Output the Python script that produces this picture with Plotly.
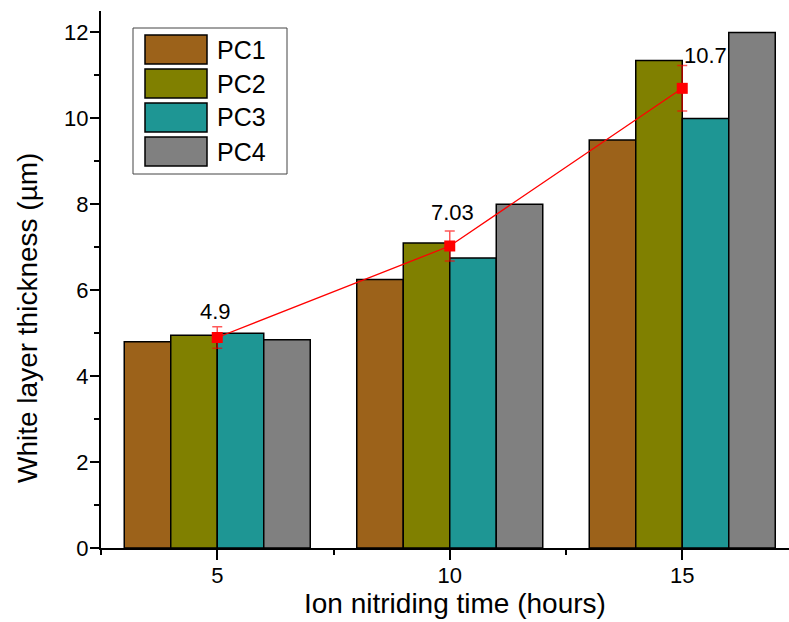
import plotly.graph_objects as go

# ---- data ----
times = [5, 10, 15]
series_names = ["PC1", "PC2", "PC3", "PC4"]
pc1 = [4.80, 6.25, 9.50]
pc2 = [4.95, 7.10, 11.35]
pc3 = [5.00, 6.75, 10.00]
pc4 = [4.85, 8.00, 12.00]
mean_vals = [4.9, 7.03, 10.7]
mean_err = [0.25, 0.35, 0.53]
mean_labels = ["4.9", "7.03", "10.7"]
y_ticks = [0, 2, 4, 6, 8, 10, 12]
x_ticks = [5, 10, 15]

series_vals = [pc1, pc2, pc3, pc4]
colors = ["#9C621A", "#808000", "#1E9694", "#808080"]

W, H = 789, 622
ML, MR, MT, MB = 101, 0, 11, 74
PW, PH = W - ML - MR, H - MT - MB
FONT = "Liberation Sans, Arial, sans-serif"


def px(xp):
    return (xp - ML) / PW


def py(yp):
    return (H - MB - yp) / PH


fig = go.Figure()
for name, vals, c in zip(series_names, series_vals, colors):
    fig.add_trace(go.Bar(x=times, y=vals, name=name, marker=dict(color=c, line=dict(color="black", width=1.5)),
                         showlegend=False))

fig.add_trace(go.Scatter(x=times, y=mean_vals, mode="lines+markers",
                         line=dict(color="red", width=1.3),
                         marker=dict(symbol="square", size=11, color="red"),
                         error_y=dict(type="data", array=mean_err, color="rgba(255,0,0,0.65)",
                                      thickness=1.5, width=5),
                         showlegend=False))

# value labels
offsets = [(-2, 26, "center"), (3, 33, "center"), (0, 33, "left")]
for xv, yv, lab, (dx, dy, anc) in zip(times, mean_vals, mean_labels, offsets):
    fig.add_annotation(x=xv, y=yv, text=lab, showarrow=False, xanchor=anc, yanchor="middle",
                       xshift=dx, yshift=dy, font=dict(family=FONT, size=22, color="black"))

# manual legend
shapes = [dict(type="rect", xref="paper", yref="paper", x0=px(133), x1=px(287), y0=py(174), y1=py(28),
               line=dict(color="#444444", width=1), fillcolor="white", layer="above")]
for i, (name, c) in enumerate(zip(series_names, colors)):
    top = 35 + i * 34
    shapes.append(dict(type="rect", xref="paper", yref="paper", x0=px(145), x1=px(207),
                       y0=py(top + 29), y1=py(top), line=dict(color="black", width=1.5),
                       fillcolor=c, layer="above"))
    fig.add_annotation(xref="paper", yref="paper", x=px(215), y=py(top + 14.5), text=name,
                       showarrow=False, xanchor="left", yanchor="middle",
                       font=dict(family=FONT, size=25, color="black"))

# axis titles
fig.add_annotation(xref="paper", yref="paper", x=px(455), y=py(604), text="Ion nitriding time (hours)",
                   showarrow=False, xanchor="center", yanchor="middle",
                   font=dict(family=FONT, size=28, color="black"))
fig.add_annotation(xref="paper", yref="paper", x=px(27), y=py(318), text="White layer thickness (µm)",
                   showarrow=False, textangle=-90, xanchor="center", yanchor="middle",
                   font=dict(family=FONT, size=28, color="black"))

xr = [2.5, 2.5 + PW / 46.5]
yr = [0, 12.5]
fig.update_layout(
    width=W, height=H, margin=dict(l=ML, r=MR, t=MT, b=MB),
    paper_bgcolor="white", plot_bgcolor="white",
    barmode="group", bargap=0.2, bargroupgap=0,
    shapes=shapes,
    font=dict(family=FONT, color="black"),
    xaxis=dict(range=xr, tickvals=x_ticks, ticks="outside", ticklen=10, tickwidth=2, tickcolor="black",
               showline=True, linecolor="black", linewidth=2, showgrid=False, zeroline=False,
               tickfont=dict(family=FONT, size=22), ticklabelstandoff=-3,
               minor=dict(tickvals=[2.5, 7.5, 12.5], ticks="outside", ticklen=5, tickwidth=2,
                          tickcolor="black", showgrid=False)),
    yaxis=dict(range=yr, tickvals=y_ticks, ticks="outside", ticklen=9, tickwidth=2, tickcolor="black",
               showline=True, linecolor="black", linewidth=2, showgrid=False, zeroline=False,
               tickfont=dict(family=FONT, size=22), ticklabelstandoff=-3,
               minor=dict(tickvals=[1, 3, 5, 7, 9, 11], ticks="outside", ticklen=5, tickwidth=2,
                          tickcolor="black", showgrid=False)),
    xaxis2=dict(overlaying="x", side="top", range=xr, tickvals=x_ticks, ticks="inside", ticklen=10,
                tickwidth=2, tickcolor="black", showline=True, linecolor="black", linewidth=2,
                showticklabels=False, showgrid=False, zeroline=False, anchor="y"),
    yaxis2=dict(overlaying="y", side="right", range=yr, tickvals=y_ticks, ticks="inside", ticklen=9,
                tickwidth=2, tickcolor="black", showline=True, linecolor="black", linewidth=2,
                showticklabels=False, showgrid=False, zeroline=False, anchor="x"),
)

fig.write_html("out.html")
